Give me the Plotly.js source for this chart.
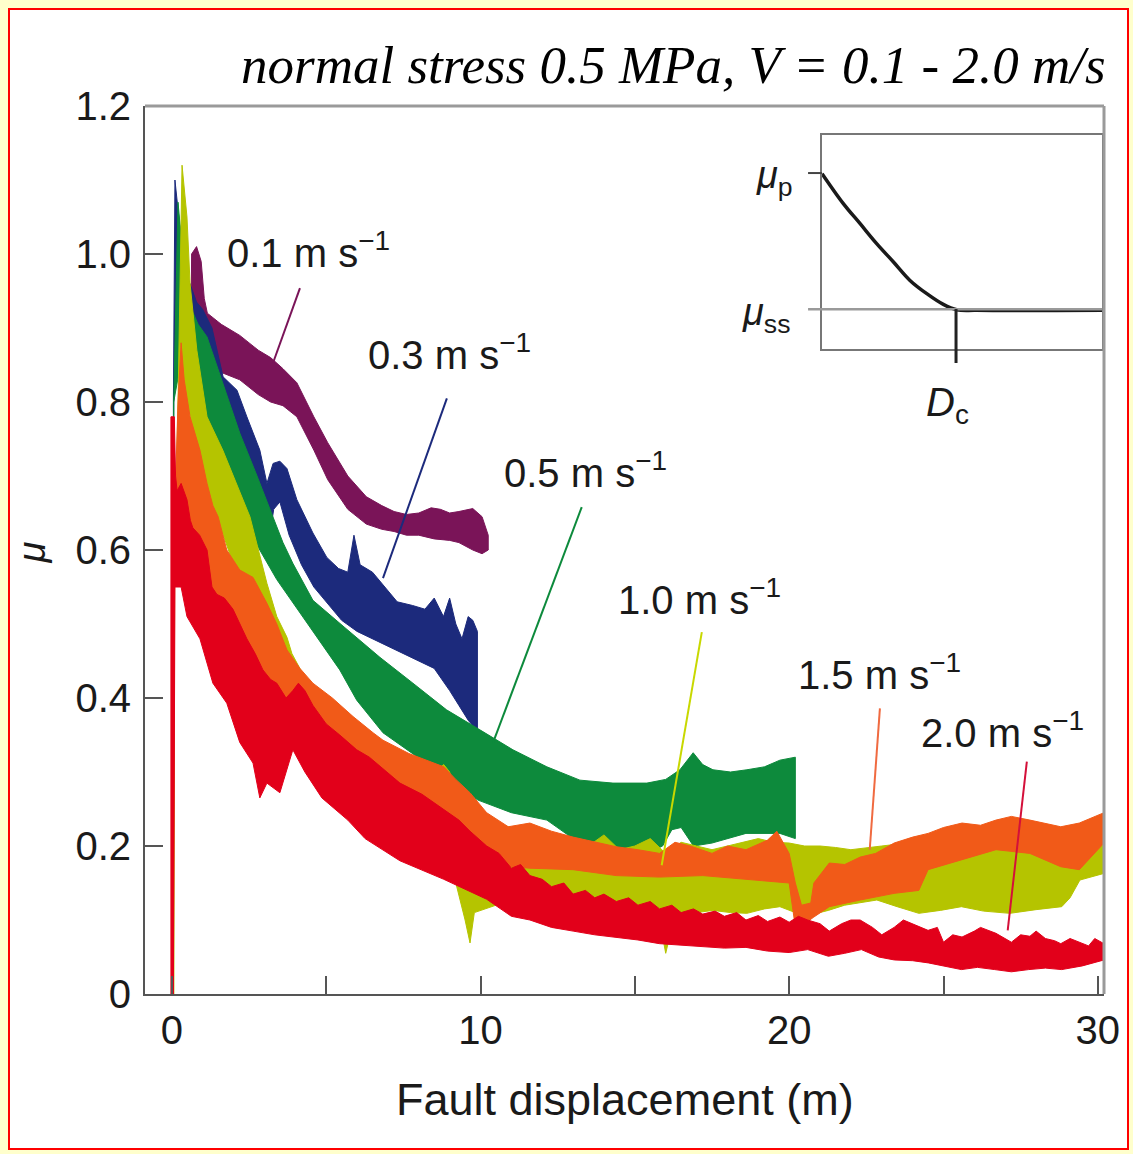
<!DOCTYPE html>
<html>
<head>
<meta charset="utf-8">
<script src="https://cdn.plot.ly/plotly-3.0.1.min.js"></script>
<style>
  html, body { margin: 0; padding: 0; }
  body { width: 1133px; height: 1154px; background: #ffffcc; position: relative; overflow: hidden; }
  #frame { position: absolute; left: 8px; top: 8px; width: 1121px; height: 1142px; background: #ffffff; border: 2px solid #ff0000; box-sizing: border-box; }
  #chart { position: absolute; left: 0; top: 0; width: 1133px; height: 1154px; }
</style>
</head>
<body>
<div id="frame"></div>
<div id="chart"></div>
<script>
// ---------- data ----------
const seriesNames = ['0.1 m s<sup>−1</sup>', '0.3 m s<sup>−1</sup>', '0.5 m s<sup>−1</sup>', '1.0 m s<sup>−1</sup>', '1.5 m s<sup>−1</sup>', '2.0 m s<sup>−1</sup>'];

// 0.1 m/s  (upper / lower envelope of the noisy band)
const v01_xu = [0.62, 0.64, 0.80, 0.95, 1.05, 1.15, 1.30, 1.60, 2.20, 2.80, 3.20, 3.60, 4.05, 4.60, 5.05, 5.70, 6.30, 6.80, 7.20, 7.60, 8.00, 8.40, 8.70, 9.00, 9.30, 9.75, 10.05, 10.25];
const v01_yu = [0.90, 1.00, 1.01, 0.99, 0.94, 0.92, 0.915, 0.905, 0.89, 0.87, 0.86, 0.845, 0.826, 0.78, 0.745, 0.70, 0.672, 0.66, 0.652, 0.648, 0.65, 0.657, 0.655, 0.65, 0.652, 0.656, 0.645, 0.62];
const v01_xl = [0.62, 1.0, 1.3, 1.6, 2.2, 2.8, 3.2, 3.6, 4.05, 4.6, 5.05, 5.7, 6.3, 6.8, 7.2, 7.6, 8.0, 8.5, 9.0, 9.3, 9.75, 10.05, 10.25];
const v01_yl = [0.90, 0.89, 0.85, 0.84, 0.83, 0.81, 0.80, 0.795, 0.78, 0.735, 0.695, 0.655, 0.635, 0.628, 0.625, 0.62, 0.62, 0.615, 0.613, 0.61, 0.60, 0.595, 0.60];

// 0.3 m/s
const v03_xu = [0.03, 0.05, 0.10, 0.3, 0.5, 0.8, 1.0, 1.3, 1.66, 2.11, 2.43, 2.85, 3.08, 3.28, 3.5, 3.73, 4.05, 4.57, 5.02, 5.4, 5.7, 5.9, 6.1, 6.5, 6.9, 7.3, 7.8, 8.2, 8.5, 8.8, 9.0, 9.2, 9.4, 9.6, 9.75, 9.9];
const v03_yu = [0.0, 0.80, 1.10, 1.02, 0.97, 0.935, 0.925, 0.90, 0.834, 0.816, 0.78, 0.735, 0.69, 0.717, 0.72, 0.71, 0.668, 0.623, 0.59, 0.575, 0.57, 0.62, 0.58, 0.57, 0.55, 0.53, 0.525, 0.52, 0.535, 0.51, 0.535, 0.50, 0.48, 0.51, 0.505, 0.49];
const v03_xl = [0.03, 0.06, 0.3, 0.8, 1.3, 1.7, 2.2, 2.7, 3.1, 3.3, 3.5, 3.8, 4.2, 4.6, 5.0, 5.5, 6.0, 6.5, 7.0, 7.5, 8.0, 8.5, 9.0, 9.3, 9.6, 9.9];
const v03_yl = [0.0, 0.80, 0.95, 0.87, 0.80, 0.74, 0.68, 0.62, 0.60, 0.655, 0.665, 0.62, 0.58, 0.55, 0.53, 0.505, 0.49, 0.48, 0.47, 0.46, 0.45, 0.44, 0.41, 0.39, 0.37, 0.355];

// 0.5 m/s
const v05_xu = [0.03, 0.06, 0.2, 0.35, 0.59, 0.85, 1.14, 1.65, 2.2, 2.76, 3.28, 3.6, 3.92, 4.57, 5.58, 6.74, 7.81, 8.9, 9.98, 11.05, 12.15, 13.22, 14.29, 15.39, 16.0, 16.46, 16.89, 17.2, 17.53, 18.1, 18.63, 19.2, 19.7, 20.0, 20.2];
const v05_yu = [0.0, 0.80, 1.07, 1.0, 0.93, 0.905, 0.888, 0.826, 0.758, 0.70, 0.645, 0.61, 0.582, 0.532, 0.496, 0.455, 0.42, 0.384, 0.357, 0.33, 0.307, 0.289, 0.285, 0.285, 0.29, 0.303, 0.326, 0.31, 0.303, 0.30, 0.303, 0.307, 0.316, 0.318, 0.32];
const v05_xl = [0.03, 0.06, 0.36, 1.14, 1.79, 2.53, 3.4, 4.31, 5.44, 5.99, 6.84, 8.1, 9.23, 9.92, 11.0, 12.15, 13.2, 14.3, 15.4, 15.9, 16.2, 16.5, 16.9, 17.5, 18.6, 19.7, 20.2];
const v05_yl = [0.0, 0.80, 0.87, 0.78, 0.708, 0.623, 0.56, 0.505, 0.438, 0.397, 0.353, 0.316, 0.28, 0.262, 0.245, 0.235, 0.204, 0.195, 0.19, 0.2, 0.222, 0.225, 0.2, 0.204, 0.217, 0.217, 0.21];

// 1.0 m/s
const v10_xu = [0.06, 0.07, 0.2, 0.27, 0.33, 0.49, 0.59, 0.81, 1.14, 1.65, 2.0, 2.53, 3.08, 3.4, 3.73, 3.89, 4.57, 5.2, 5.7, 6.3, 6.84, 7.4, 7.97, 8.5, 8.81, 9.0, 9.2, 9.45, 9.66, 9.8, 10.0, 10.5, 11.0, 11.5, 12.0, 12.5, 13.0, 13.5, 14.0, 14.5, 15.0, 15.5, 16.0, 16.5, 17.0, 17.5, 18.0, 18.5, 19.0, 19.5, 20.0, 20.5, 21.0, 21.5, 22.0, 23.0, 24.0, 25.0, 26.0, 27.0, 28.0, 29.0, 29.6, 30.2];
const v10_yu = [0.0, 0.55, 0.80, 1.0, 1.12, 1.05, 0.96, 0.87, 0.78, 0.735, 0.70, 0.645, 0.555, 0.51, 0.482, 0.46, 0.407, 0.38, 0.36, 0.35, 0.34, 0.32, 0.307, 0.30, 0.31, 0.30, 0.27, 0.25, 0.23, 0.22, 0.215, 0.23, 0.225, 0.20, 0.22, 0.21, 0.205, 0.2, 0.215, 0.195, 0.2, 0.21, 0.19, 0.205, 0.2, 0.195, 0.2, 0.205, 0.21, 0.205, 0.204, 0.2, 0.2, 0.198, 0.195, 0.2, 0.205, 0.21, 0.212, 0.215, 0.21, 0.2, 0.205, 0.215];
const v10_xl = [0.06, 0.09, 0.3, 0.5, 1.0, 1.5, 2.0, 2.5, 3.0, 3.5, 4.0, 5.0, 6.0, 7.0, 8.0, 8.8, 9.2, 9.5, 9.66, 9.8, 9.98, 10.5, 11.05, 11.6, 12.15, 12.8, 13.2, 13.7, 14.29, 14.8, 15.39, 15.8, 16.0, 16.2, 16.46, 17.0, 17.53, 18.1, 18.63, 19.2, 19.7, 20.2, 20.5, 20.8, 21.27, 21.8, 22.84, 23.5, 24.2, 24.9, 25.58, 26.3, 27.15, 28.0, 28.83, 29.1, 29.42, 30.2];
const v10_yl = [0.0, 0.55, 0.75, 0.80, 0.70, 0.64, 0.58, 0.55, 0.50, 0.45, 0.41, 0.35, 0.31, 0.27, 0.23, 0.20, 0.15, 0.10, 0.069, 0.11, 0.113, 0.12, 0.127, 0.115, 0.104, 0.09, 0.097, 0.11, 0.127, 0.115, 0.113, 0.1, 0.055, 0.09, 0.104, 0.11, 0.113, 0.11, 0.109, 0.115, 0.118, 0.11, 0.105, 0.108, 0.113, 0.12, 0.127, 0.118, 0.109, 0.113, 0.118, 0.112, 0.109, 0.114, 0.118, 0.13, 0.154, 0.163];

// 1.5 m/s
const v15_xu = [0.05, 0.07, 0.2, 0.3, 0.4, 0.59, 0.91, 1.14, 1.33, 1.5, 1.78, 2.2, 2.63, 3.08, 3.4, 3.73, 4.15, 4.57, 5.2, 5.87, 6.52, 6.84, 7.68, 8.81, 9.2, 9.66, 10.2, 10.9, 11.6, 12.3, 13.0, 13.7, 14.4, 15.1, 15.8, 16.3, 16.8, 17.5, 18.0, 18.6, 19.3, 19.6, 20.0, 20.2, 20.4, 20.7, 20.8, 21.3, 21.8, 22.3, 22.8, 23.4, 24.0, 24.5, 25.0, 25.6, 26.2, 26.7, 27.2, 27.8, 28.3, 28.8, 29.4, 29.8, 30.2];
const v15_yu = [0.0, 0.62, 0.80, 0.88, 0.83, 0.78, 0.735, 0.69, 0.66, 0.645, 0.60, 0.573, 0.563, 0.528, 0.50, 0.465, 0.44, 0.42, 0.40, 0.375, 0.353, 0.343, 0.325, 0.307, 0.29, 0.272, 0.245, 0.226, 0.231, 0.22, 0.212, 0.205, 0.199, 0.195, 0.19, 0.205, 0.2, 0.19, 0.2, 0.195, 0.208, 0.22, 0.19, 0.15, 0.12, 0.123, 0.15, 0.177, 0.175, 0.185, 0.19, 0.204, 0.212, 0.217, 0.225, 0.231, 0.228, 0.235, 0.24, 0.235, 0.231, 0.226, 0.231, 0.238, 0.245];
const v15_xl = [0.05, 0.08, 0.3, 0.59, 1.14, 1.9, 2.75, 3.4, 3.92, 4.5, 5.5, 6.5, 7.39, 8.81, 10.2, 11.6, 13.0, 14.4, 15.8, 17.2, 18.6, 20.0, 20.2, 20.5, 20.8, 21.3, 22.3, 23.4, 24.2, 24.5, 25.6, 26.7, 27.8, 28.8, 29.4, 30.2];
const v15_yl = [0.0, 0.55, 0.6, 0.587, 0.528, 0.48, 0.428, 0.397, 0.40, 0.36, 0.31, 0.27, 0.235, 0.199, 0.175, 0.17, 0.168, 0.16, 0.158, 0.16, 0.155, 0.15, 0.09, 0.095, 0.104, 0.118, 0.127, 0.136, 0.14, 0.168, 0.181, 0.195, 0.19, 0.172, 0.168, 0.204];

// 2.0 m/s
const v20_xu = [-0.03, -0.03, 0.08, 0.12, 0.17, 0.3, 0.49, 0.6, 0.68, 0.9, 1.14, 1.3, 1.46, 1.7, 1.98, 2.2, 2.43, 2.7, 2.95, 3.2, 3.4, 3.7, 3.92, 4.1, 4.31, 4.57, 5.0, 5.44, 5.99, 6.4, 6.84, 7.39, 8.1, 8.81, 9.3, 9.66, 10.2, 10.6, 11.0, 11.3, 11.6, 12.0, 12.3, 12.7, 13.0, 13.4, 13.7, 14.0, 14.4, 14.8, 15.1, 15.5, 15.8, 16.2, 16.5, 16.9, 17.2, 17.6, 17.9, 18.3, 18.6, 19.0, 19.3, 19.7, 20.0, 20.3, 20.6, 21.0, 21.3, 21.7, 22.0, 22.3, 22.7, 23.0, 23.4, 23.7, 24.0, 24.5, 24.8, 25.0, 25.3, 25.6, 26.0, 26.2, 26.7, 27.0, 27.2, 27.5, 27.8, 28.0, 28.3, 28.6, 28.8, 29.1, 29.4, 29.7, 29.9, 30.2];
const v20_yu = [0.0, 0.78, 0.78, 0.70, 0.68, 0.69, 0.668, 0.64, 0.63, 0.62, 0.60, 0.55, 0.54, 0.535, 0.52, 0.50, 0.48, 0.46, 0.438, 0.425, 0.42, 0.40, 0.41, 0.42, 0.41, 0.39, 0.365, 0.35, 0.33, 0.32, 0.305, 0.285, 0.27, 0.25, 0.235, 0.22, 0.2, 0.19, 0.17, 0.175, 0.16, 0.155, 0.145, 0.15, 0.135, 0.14, 0.13, 0.135, 0.125, 0.13, 0.12, 0.125, 0.115, 0.12, 0.11, 0.115, 0.108, 0.112, 0.105, 0.11, 0.1, 0.106, 0.098, 0.104, 0.097, 0.105, 0.1, 0.095, 0.085, 0.095, 0.1, 0.1, 0.09, 0.08, 0.09, 0.1, 0.095, 0.086, 0.09, 0.07, 0.08, 0.077, 0.085, 0.09, 0.082, 0.075, 0.07, 0.08, 0.078, 0.085, 0.075, 0.072, 0.068, 0.075, 0.07, 0.065, 0.075, 0.068];
const v20_xl = [-0.03, 0.05, 0.1, 0.3, 0.49, 0.91, 1.33, 1.78, 2.2, 2.63, 2.85, 3.08, 3.5, 3.92, 4.31, 4.86, 5.7, 6.26, 7.39, 8.81, 10.2, 11.0, 11.6, 12.3, 13.0, 13.7, 14.4, 15.1, 15.8, 16.5, 17.2, 17.9, 18.6, 19.3, 20.0, 20.6, 21.27, 21.8, 22.34, 22.9, 23.41, 24.0, 24.51, 25.0, 25.58, 26.1, 26.66, 27.2, 27.76, 28.3, 28.83, 29.5, 30.2];
const v20_yl = [0.0, 0.0, 0.55, 0.55, 0.51, 0.48, 0.42, 0.393, 0.34, 0.312, 0.265, 0.285, 0.272, 0.33, 0.3, 0.265, 0.235, 0.21, 0.18, 0.155, 0.128, 0.105, 0.1, 0.09, 0.085, 0.08, 0.076, 0.073, 0.068, 0.066, 0.064, 0.062, 0.063, 0.058, 0.056, 0.06, 0.051, 0.055, 0.06, 0.05, 0.046, 0.045, 0.042, 0.038, 0.033, 0.036, 0.033, 0.03, 0.033, 0.035, 0.033, 0.038, 0.046];

// inset: schematic slip-weakening curve (normalised units)
const inset_x = [0, 0.076, 0.136, 0.195, 0.255, 0.314, 0.374, 0.433, 0.481, 0.552, 1.0];
const inset_y = [0.821, 0.681, 0.587, 0.494, 0.408, 0.322, 0.26, 0.21, 0.185, 0.182, 0.182];

// axis ticks
const xTickVals = [0, 5, 10, 15, 20, 25, 30];
const xTickText = ['0', '', '10', '', '20', '', '30'];
const yTickVals = [0, 0.2, 0.4, 0.6, 0.8, 1.0, 1.2];
const yTickText = ['0', '0.2', '0.4', '0.6', '0.8', '1.0', '1.2'];

// label positions (data units) and leader lines
const labelX = [4.44, 9.01, 13.41, 17.1, 22.94, 26.92];
const labelY = [1.005, 0.868, 0.708, 0.536, 0.435, 0.357];
const leaderX0 = [4.15, 8.91, 13.28, 17.17, 22.94, 27.7];
const leaderY0 = [0.954, 0.805, 0.658, 0.489, 0.386, 0.314];
const leaderX1 = [3.28, 6.84, 10.4, 15.87, 22.61, 27.08];
const leaderY1 = [0.853, 0.562, 0.339, 0.174, 0.195, 0.086];

// ---------- styling ----------
const colors = ['#7a1458', '#1c2a7c', '#0d8a3c', '#b5c400', '#f15a18', '#e2001a'];
const leaderColors = ['#7a1458', '#1c2a7c', '#0d8a3c', '#c8d800', '#f06a40', '#d4103a'];

function band(xu, yu, xl, yl) {
  return {
    x: xu.concat(xl.slice().reverse()),
    y: yu.concat(yl.slice().reverse())
  };
}
const bands = [
  band(v01_xu, v01_yu, v01_xl, v01_yl),
  band(v03_xu, v03_yu, v03_xl, v03_yl),
  band(v05_xu, v05_yu, v05_xl, v05_yl),
  band(v10_xu, v10_yu, v10_xl, v10_yl),
  band(v15_xu, v15_yu, v15_xl, v15_yl),
  band(v20_xu, v20_yu, v20_xl, v20_yl)
];

const traces = bands.map((b, i) => ({
  type: 'scatter', mode: 'lines', x: b.x, y: b.y,
  fill: 'toself', fillcolor: colors[i],
  line: { color: colors[i], width: 1 },
  name: seriesNames[i], hoverinfo: 'skip', showlegend: false
}));

traces.push({
  type: 'scatter', mode: 'lines', x: inset_x, y: inset_y,
  xaxis: 'x2', yaxis: 'y2',
  line: { color: '#1a1a1a', width: 3.5, shape: 'spline' },
  hoverinfo: 'skip', showlegend: false
});

const sansFont = 'Liberation Sans, Arial, sans-serif';

const annotations = seriesNames.map((t, i) => ({
  x: labelX[i], y: labelY[i], xref: 'x', yref: 'y',
  text: t, showarrow: false, xanchor: 'center', yanchor: 'middle',
  font: { family: sansFont, size: 40, color: '#1a1a1a' }
}));

annotations.push(
  { xref: 'paper', yref: 'paper', x: 1.004, y: 1.046, xanchor: 'right', yanchor: 'middle',
    text: '<i>normal stress 0.5 MPa, V = 0.1 - 2.0 m/s</i>', showarrow: false,
    font: { family: 'Liberation Serif, Times New Roman, serif', size: 53, color: '#000000' } },
  { xref: 'paper', yref: 'paper', x: 0.5005, y: -0.119, xanchor: 'center', yanchor: 'middle',
    text: 'Fault displacement (m)', showarrow: false,
    font: { family: sansFont, size: 45, color: '#1a1a1a' } },
  { xref: 'paper', yref: 'paper', x: -0.118, y: 0.497, xanchor: 'center', yanchor: 'middle',
    text: '<i>μ</i>', textangle: -90, showarrow: false,
    font: { family: sansFont, size: 38, color: '#1a1a1a' } },
  { xref: 'paper', yref: 'paper', x: 0.678, y: 0.919, xanchor: 'right', yanchor: 'middle',
    text: '<i>μ</i><sub>p</sub>', showarrow: false,
    font: { family: sansFont, size: 38, color: '#1a1a1a' } },
  { xref: 'paper', yref: 'paper', x: 0.675, y: 0.765, xanchor: 'right', yanchor: 'middle',
    text: '<i>μ</i><sub>ss</sub>', showarrow: false,
    font: { family: sansFont, size: 38, color: '#1a1a1a' } },
  { xref: 'paper', yref: 'paper', x: 0.837, y: 0.663, xanchor: 'center', yanchor: 'middle',
    text: '<i>D</i><sub>c</sub>', showarrow: false,
    font: { family: sansFont, size: 40, color: '#1a1a1a' } }
);

const shapes = leaderX0.map((x0, i) => ({
  type: 'line', xref: 'x', yref: 'y', x0: x0, y0: leaderY0[i], x1: leaderX1[i], y1: leaderY1[i],
  line: { color: leaderColors[i], width: 2 }
}));
shapes.push(
  // top and right frame (lighter grey)
  { type: 'line', xref: 'paper', yref: 'paper', x0: 0, y0: 1, x1: 1, y1: 1, line: { color: '#9a9a9a', width: 3 } },
  { type: 'line', xref: 'paper', yref: 'paper', x0: 1, y0: 0, x1: 1, y1: 1, line: { color: '#9a9a9a', width: 3 } },
  // inset: mu_ss reference line, mu_p tick, Dc tick
  { type: 'line', xref: 'paper', yref: 'paper', x0: 0.6914, y0: 0.771, x1: 0.998, y1: 0.771, line: { color: '#9a9a9a', width: 2.5 } },
  { type: 'line', xref: 'paper', yref: 'paper', x0: 0.6914, y0: 0.9245, x1: 0.706, y1: 0.9245, line: { color: '#444', width: 2 } },
  { type: 'line', xref: 'paper', yref: 'paper', x0: 0.8457, y0: 0.7714, x1: 0.8457, y1: 0.7106, line: { color: '#222', width: 3 } }
);

const layout = {
  width: 1133, height: 1154,
  margin: { l: 145, r: 29, t: 106, b: 160 },
  paper_bgcolor: 'rgba(0,0,0,0)', plot_bgcolor: '#ffffff',
  showlegend: false,
  xaxis: {
    range: [-0.87, 30.2], tickvals: xTickVals, ticktext: xTickText,
    ticks: 'inside', ticklen: 18, tickwidth: 2, tickcolor: '#555',
    showline: true, linecolor: '#555', linewidth: 2, showgrid: false, zeroline: false,
    tickfont: { family: sansFont, size: 40, color: '#1a1a1a' }, ticklabelstandoff: 0
  },
  yaxis: {
    range: [0, 1.2], tickvals: yTickVals, ticktext: yTickText,
    ticks: 'inside', ticklen: 18, tickwidth: 2, tickcolor: '#555',
    showline: true, linecolor: '#555', linewidth: 2, showgrid: false, zeroline: false,
    tickfont: { family: sansFont, size: 40, color: '#1a1a1a' }, ticklabelstandoff: 4
  },
  xaxis2: {
    domain: [0.706, 0.998], anchor: 'y2', range: [0, 1],
    showline: true, mirror: true, linecolor: '#777', linewidth: 2,
    showticklabels: false, ticks: '', showgrid: false, zeroline: false
  },
  yaxis2: {
    domain: [0.726, 0.967], anchor: 'x2', range: [0, 1],
    showline: true, mirror: true, linecolor: '#777', linewidth: 2,
    showticklabels: false, ticks: '', showgrid: false, zeroline: false
  },
  annotations: annotations,
  shapes: shapes
};

Plotly.newPlot('chart', traces, layout, { displayModeBar: false, staticPlot: true });
</script>
</body>
</html>
